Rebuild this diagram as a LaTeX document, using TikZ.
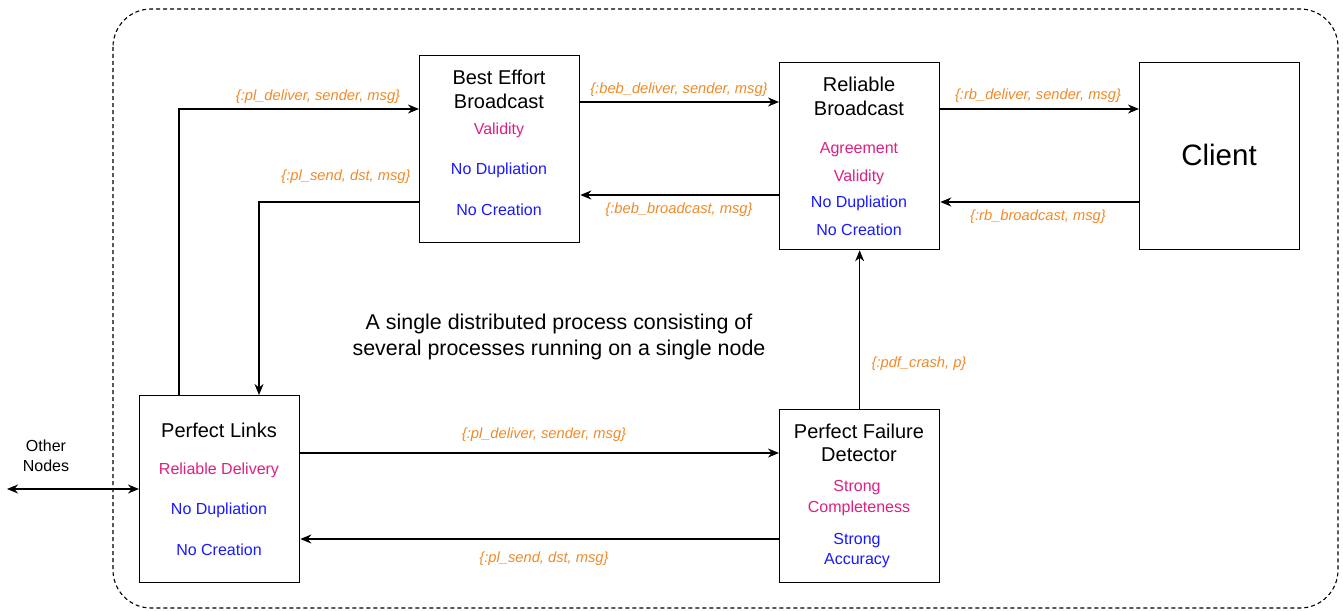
\documentclass[tikz,border=0pt]{standalone}
\usepackage{fontspec}
\setmainfont{Liberation Sans}
\usetikzlibrary{arrows.meta}
\definecolor{propred}{RGB}{221,32,130}
\definecolor{propblue}{RGB}{25,25,255}
\definecolor{msgorange}{RGB}{240,138,40}
\newcommand{\fsz}[1]{\fontsize{#1}{#1}\selectfont}
\tikzset{
  x=1pt, y=-1pt,
  tip/.tip={Stealth[length=11pt,width=9pt,inset=3.5pt]},
  block/.style={draw, line width=1.3pt, fill=white, anchor=north west, inner sep=0pt},
  title/.style={font=\fsz{20}, inner sep=0pt, anchor=center},
  safety/.style={font=\fsz{16}, text=propred, inner sep=0pt, anchor=center, yshift=-2pt},
  liveness/.style={font=\fsz{16}, text=propblue, inner sep=0pt, anchor=center, yshift=-2pt},
  msg/.style={font=\fsz{14.7}\itshape, text=msgorange, inner sep=0pt, anchor=center, yshift=-2pt},
  link/.style={line width=1.3pt, -tip},
  plain/.style={font=\fsz{16}, inner sep=0pt, anchor=center},
}
\begin{document}
\begin{tikzpicture}
\useasboundingbox (0,0) rectangle (1343,610);

% process boundary
\draw[line width=1.1pt, dash pattern=on 4pt off 3pt, rounded corners=38pt] (113,9) rectangle (1338,608);

% component boxes
\node[block, minimum width=160pt, minimum height=187pt] (beb) at (419,55) {};
\node[block, minimum width=160pt, minimum height=187pt] (rb) at (779,62) {};
\node[block, minimum width=160pt, minimum height=187pt] (client) at (1139,62) {};
\node[block, minimum width=160pt, minimum height=187pt] (pl) at (139,395) {};
\node[block, minimum width=160pt, minimum height=173pt] (pfd) at (779,409) {};

% Best Effort Broadcast
\node[title] (bebt1) at (499,77) {Best Effort};
\node[title] (bebt2) at (499,101) {Broadcast};
\node[safety] (bebp1) at (499,128) {Validity};
\node[liveness] (bebp2) at (499,168) {No Dupliation};
\node[liveness] (bebp3) at (499,208) {No Creation};

% Reliable Broadcast
\node[title] (rbt1) at (859,84) {Reliable};
\node[title] (rbt2) at (859,108) {Broadcast};
\node[safety] (rbp1) at (859,148) {Agreement};
\node[safety] (rbp2) at (859,175) {Validity};
\node[liveness] (rbp3) at (859,201) {No Dupliation};
\node[liveness] (rbp4) at (859,228) {No Creation};

% Client
\node[font=\fsz{29.5}, inner sep=0pt] (clientt) at (1219,155) {Client};

% Perfect Links
\node[title] (plt) at (219,430) {Perfect Links};
\node[safety] (plp1) at (219,468) {Reliable Delivery};
\node[liveness] (plp2) at (219,508) {No Dupliation};
\node[liveness] (plp3) at (219,548) {No Creation};

% Perfect Failure Detector
\node[title] (pfdt1) at (859,431) {Perfect Failure};
\node[title] (pfdt2) at (859,455) {Detector};
\node[safety] (pfdp1) at (857,486) {Strong};
\node[safety] (pfdp2) at (859,506) {Completeness};
\node[liveness] (pfdp3) at (857,539) {Strong};
\node[liveness] (pfdp4) at (857,559) {Accuracy};

% caption
\node[font=\fsz{21.4}, align=center, inner sep=0pt] (caption) at (559,337)
  {A single distributed process consisting of\\[4pt]several processes running on a single node};

% other nodes
\node[plain, align=center] (other) at (46,456) {Other\\[4pt]Nodes};
\coordinate (outside) at (7,489);

% connectors
\draw[link] (pl.north west -| 179,0) |- (beb.north west |- 0,109);
\draw[link] (beb.north west |- 0,202) -| (pl.north west -| 259,0);
\draw[link] (beb.north east |- 0,102) -- (rb.north west |- 0,102);
\draw[link] (rb.north west |- 0,195) -- (beb.north east |- 0,195);
\draw[link] (rb.north east |- 0,109) -- (client.north west |- 0,109);
\draw[link] (client.north west |- 0,202) -- (rb.north east |- 0,202);
\draw[link] (pfd.north) -- (rb.south);
\draw[link] (pl.north east |- 0,453) -- (pfd.north west |- 0,453);
\draw[link] (pfd.north west |- 0,539) -- (pl.north east |- 0,539);
\draw[line width=1.3pt, tip-tip] (outside) -- (pl.north west |- 0,489);

% message labels
\node[msg] (m1) at (318,95) {\{:pl\_deliver, sender, msg\}};
\node[msg] (m2) at (346,175) {\{:pl\_send, dst, msg\}};
\node[msg] (m3) at (679,88) {\{:beb\_deliver, sender, msg\}};
\node[msg] (m4) at (679,208) {\{:beb\_broadcast, msg\}};
\node[msg] (m5) at (1038,94) {\{:rb\_deliver, sender, msg\}};
\node[msg] (m6) at (1038,215) {\{:rb\_broadcast, msg\}};
\node[msg] (m7) at (919,362) {\{:pdf\_crash, p\}};
\node[msg] (m8) at (544,433) {\{:pl\_deliver, sender, msg\}};
\node[msg] (m9) at (544,557) {\{:pl\_send, dst, msg\}};
\end{tikzpicture}
\end{document}
